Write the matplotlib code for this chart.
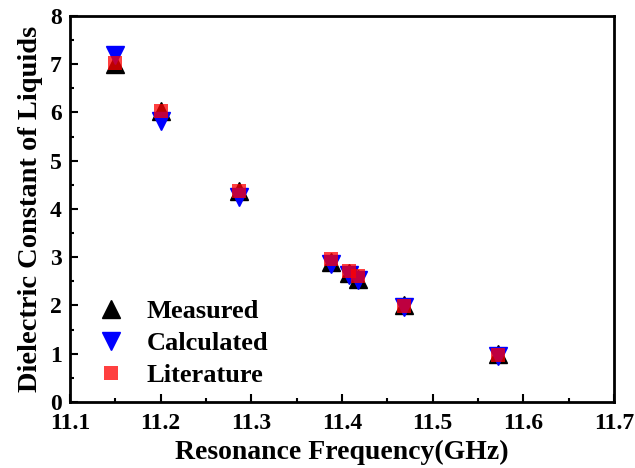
import matplotlib
matplotlib.use("Agg")
import matplotlib.pyplot as plt
from matplotlib.ticker import MultipleLocator

# values
freq = [11.150, 11.200, 11.286, 11.388, 11.408, 11.418, 11.468, 11.572]
measured = [7.00, 6.03, 4.38, 2.90, 2.67, 2.55, 2.00, 1.00]
calculated = [7.18, 5.82, 4.25, 2.86, 2.64, 2.52, 1.97, 0.96]
literature = [7.02, 6.04, 4.37, 2.96, 2.71, 2.61, 1.98, 0.97]

plt.rcParams["font.family"] = ["Liberation Serif", "DejaVu Serif"]
plt.rcParams["font.weight"] = "bold"

fig = plt.figure(figsize=(6.35, 4.68), dpi=100)
ax = fig.add_axes([0.110, 0.141, 0.857, 0.825])

ax.plot(freq, measured, "^", color="black", markersize=12.5, label="Measured")
ax.plot(freq, calculated, "v", color="blue", markersize=12.5, label="Calculated")
ax.plot(freq, literature, "s", color="red", alpha=0.75, markersize=10,
        markeredgewidth=0, label="Literature")

ax.set_xlim(11.1, 11.7)
ax.set_ylim(0, 8)
ax.xaxis.set_major_locator(MultipleLocator(0.1))
ax.xaxis.set_minor_locator(MultipleLocator(0.05))
ax.yaxis.set_major_locator(MultipleLocator(1))
ax.yaxis.set_minor_locator(MultipleLocator(0.5))
ax.tick_params(which="both", direction="in", width=1.5, labelsize=17)
ax.tick_params(which="major", length=6)
ax.tick_params(which="minor", length=3)
ax.tick_params(axis="x", pad=8)
ax.tick_params(axis="y", pad=6)
for s in ax.spines.values():
    s.set_linewidth(2)

ax.set_xlabel("Resonance Frequency(GHz)", fontsize=20, fontweight="bold", labelpad=4)
ax.set_ylabel("Dielectric Constant of Liquids", fontsize=20.5, fontweight="bold", labelpad=5)

ax.legend(loc="lower left", bbox_to_anchor=(-0.005, -0.023), frameon=False,
          prop={"size": 19, "weight": "bold"}, handletextpad=0.6,
          labelspacing=0.33, handlelength=1.5)

fig.savefig("out.png", dpi=100)
